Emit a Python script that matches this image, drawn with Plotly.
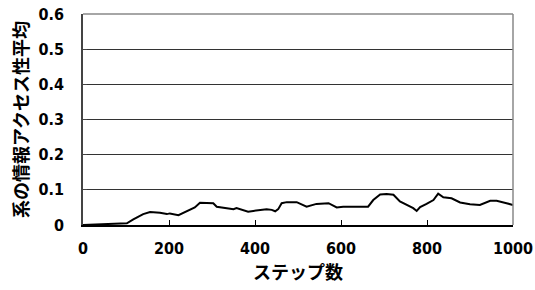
import plotly.graph_objects as go

steps = [0, 47, 102, 117, 140, 156, 179, 195, 202, 222, 233, 249, 260, 272, 288, 303, 311, 326,
         342, 350, 357, 373, 384, 396, 412, 427, 439, 447, 454, 462, 474, 489, 497, 520, 543,
         571, 590, 605, 629, 644, 663, 675, 691, 706, 722, 737, 757, 768, 776, 784, 799, 815,
         826, 838, 857, 877, 900, 923, 947, 962, 985, 1000]
values = [0.0, 0.002, 0.005, 0.016, 0.031, 0.037, 0.035, 0.031, 0.033, 0.028, 0.035, 0.043,
          0.050, 0.063, 0.062, 0.062, 0.052, 0.050, 0.048, 0.045, 0.048, 0.043, 0.038, 0.040,
          0.043, 0.045, 0.043, 0.039, 0.045, 0.062, 0.065, 0.064, 0.065, 0.052, 0.060, 0.062,
          0.050, 0.052, 0.052, 0.054, 0.052, 0.071, 0.087, 0.088, 0.086, 0.067, 0.054, 0.048,
          0.040, 0.051, 0.060, 0.071, 0.089, 0.079, 0.076, 0.064, 0.059, 0.057, 0.069, 0.069,
          0.062, 0.057]
x_ticks = [0, 200, 400, 600, 800, 1000]
y_ticks = [0, 0.1, 0.2, 0.3, 0.4, 0.5, 0.6]
y_ticktext = ["0", "0.1", "0.2", "0.3", "0.4", "0.5", "0.6"]

num_font = dict(family="DejaVu Sans Condensed", size=16, color="black", weight="bold")
jp_font = dict(family="Noto Sans CJK JP", size=18, color="black", weight="bold")

fig = go.Figure()
fig.add_trace(go.Scatter(x=steps, y=values, mode="lines",
                         line=dict(color="black", width=2), showlegend=False))

fig.update_layout(
    width=535, height=290,
    margin=dict(l=83, r=22, t=14, b=65),
    paper_bgcolor="white", plot_bgcolor="white",
    shapes=[
        dict(type="line", xref="paper", yref="paper", x0=0, x1=1, y0=1, y1=1,
             line=dict(color="#888888", width=1.5)),
        dict(type="line", xref="paper", yref="paper", x0=1, x1=1, y0=0, y1=1,
             line=dict(color="#888888", width=1.5)),
    ],
)
fig.update_xaxes(
    range=[0, 1000], tickvals=x_ticks, showgrid=False, zeroline=False, automargin=False,
    showline=True, linecolor="black", linewidth=1.5,
    ticks="inside", ticklen=5, tickcolor="black", tickwidth=1,
    tickfont=num_font, ticklabelstandoff=8,
    title=dict(text="ステップ数", font=jp_font, standoff=9),
)
fig.update_yaxes(
    range=[0, 0.6], tickvals=y_ticks, ticktext=y_ticktext, automargin=False,
    showgrid=True, gridcolor="#333333", gridwidth=1, zeroline=False,
    showline=True, linecolor="#444444", linewidth=1.5,
    ticks="inside", ticklen=4, tickcolor="#444444",
    tickfont=num_font, ticklabelstandoff=14,
    title=dict(text="系の情報アクセス性平均", font=jp_font, standoff=5),
)

fig.write_html("out.html", config={"displayModeBar": False},
               post_script="document.body.style.margin='0';")
